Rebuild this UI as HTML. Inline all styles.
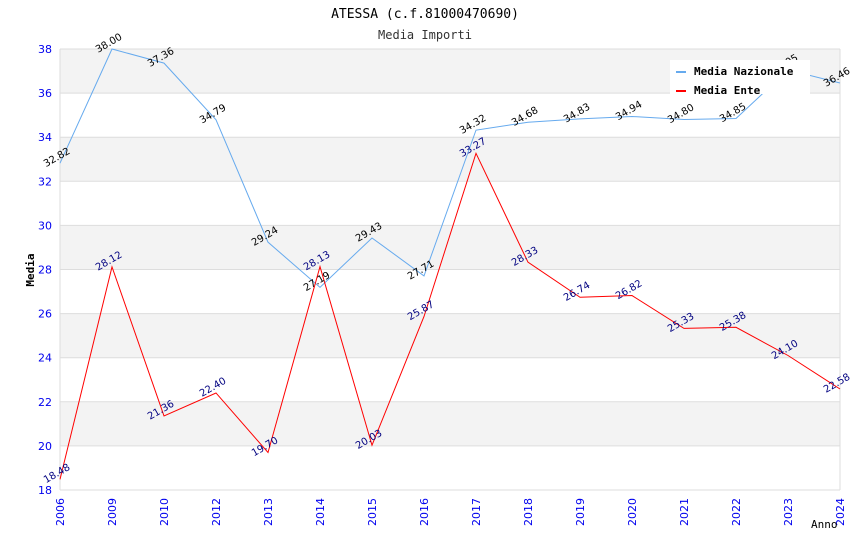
<!DOCTYPE html>
<html><head><meta charset="utf-8"><style>
body{margin:0;background:#fff;}
svg{display:block;font-family:"DejaVu Sans Mono","Liberation Mono",monospace;}
.sans{font-family:"DejaVu Sans","Liberation Sans",sans-serif;}
</style></head><body>
<svg id="chart" width="850" height="550">
<text x="425" y="18" text-anchor="middle" font-size="13" fill="#000">ATESSA (c.f.81000470690)</text>
<text x="425" y="39" text-anchor="middle" font-size="12" fill="#333">Media Importi</text>
<g id="bands"></g><g id="grid"></g><g id="axes" class="sans"></g><g id="series"></g><g id="labels" class="sans"></g>
<text x="34" y="270" transform="rotate(-90 34 270)" text-anchor="middle" font-size="11" font-weight="bold">Media</text>
<text x="811" y="528" font-size="11">Anno</text>
<g>
<rect x="670" y="60" width="140" height="34" fill="#fff"/>
<rect x="676" y="71" width="10" height="2" fill="#66aaee"/>
<text x="694" y="75" font-size="11" font-weight="bold">Media Nazionale</text>
<rect x="676" y="90" width="10" height="2" fill="#ff0000"/>
<text x="694" y="94" font-size="11" font-weight="bold">Media Ente</text>
</g>
</svg>
<script>
const categories=["2006","2009","2010","2012","2013","2014","2015","2016","2017","2018","2019","2020","2021","2022","2023","2024"];
const nazionale=[32.82,38.00,37.36,34.79,29.24,27.19,29.43,27.71,34.32,34.68,34.83,34.94,34.80,34.85,37.05,36.46];
const ente=[18.48,28.12,21.36,22.40,19.70,28.13,20.03,25.87,33.27,28.33,26.74,26.82,25.33,25.38,24.10,22.58];
const yTicks=[18,20,22,24,26,28,30,32,34,36,38];
const NS="http://www.w3.org/2000/svg";
const L=60,R=840,T=49,B=490,yMin=18,yMax=38;
const xs=i=>L+i*(R-L)/(categories.length-1);
const ys=v=>B-(v-yMin)*(B-T)/(yMax-yMin);
function mk(tag,attrs,parent){const e=document.createElementNS(NS,tag);for(const k in attrs)e.setAttribute(k,attrs[k]);document.getElementById(parent).appendChild(e);return e;}
for(let i=0;i<yTicks.length-1;i++){
 if(i%2===1){const r=mk('rect',{x:L,y:ys(yTicks[i+1]),width:R-L,height:ys(yTicks[i])-ys(yTicks[i+1]),fill:'#f3f3f3'},'bands');
 
 }
}
yTicks.forEach(t=>{
 const g=mk('line',{x1:L,x2:R,y1:ys(t),y2:ys(t),stroke:'#ddd','stroke-width':1},'grid');
 
 
 const tx=mk('text',{x:L-8,y:ys(t)+4,'text-anchor':'end','font-size':11,fill:'#0000ee'},'axes');
 tx.textContent=t;
 
 
});
mk('line',{x1:L,x2:L,y1:T,y2:B,stroke:'#ddd'},'axes');
mk('line',{x1:R,x2:R,y1:T,y2:B,stroke:'#ddd'},'axes');
categories.forEach((c,i)=>{
 const x=xs(i);
 const tx=mk('text',{x:x+4,y:B+8,'text-anchor':'end','font-size':11,fill:'#0000ee',transform:`rotate(-90 ${x+4} ${B+8})`},'axes');
 tx.textContent=c;
 
 
});
function series(vals,color,lblColor,name){
 const p=mk('polyline',{points:vals.map((v,i)=>xs(i)+','+ys(v)).join(' '),fill:'none',stroke:color,'stroke-width':1},'series');
 
 
 vals.forEach((v,i)=>{
  const x=xs(i)-14,y=ys(v)+4;
  const t=mk('text',{x:x,y:y,'font-size':10,fill:lblColor,transform:`rotate(-30 ${x} ${y})`},'labels');
  t.textContent=v.toFixed(2);
  
  
 });
}
series(nazionale,'#66aaee','#000','nazionale');
series(ente,'#ff0000','#000080','ente');
</script>
</body></html>
